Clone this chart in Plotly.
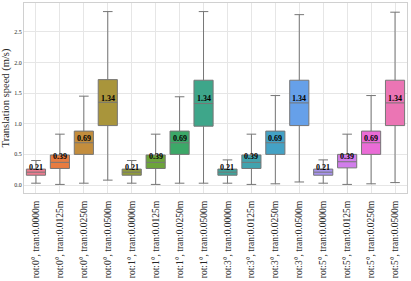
import math
import colorsys
import plotly.graph_objects as go

# ---------------- data ----------------
rotations = [0, 1, 3, 5]
translations = [0.0000, 0.0125, 0.0250, 0.0500]
categories = [f"rot:{r}°, tran:{t:.4f}m" for r in rotations for t in translations]

lower_whisker = [0.03, 0.01, 0.03, 0.08,  0.03, 0.01, 0.03, 0.03,  0.03, 0.01, 0.02, 0.05,  0.03, 0.01, 0.02, 0.04]
q1_values     = [0.16, 0.27, 0.50, 0.97,  0.16, 0.27, 0.50, 0.96,  0.16, 0.27, 0.50, 0.97,  0.16, 0.28, 0.50, 0.97]
median_values = [0.21, 0.37, 0.69, 1.35,  0.21, 0.37, 0.69, 1.33,  0.21, 0.37, 0.69, 1.34,  0.21, 0.38, 0.69, 1.34]
q3_values     = [0.26, 0.49, 0.88, 1.72,  0.26, 0.49, 0.88, 1.71,  0.26, 0.49, 0.88, 1.71,  0.26, 0.50, 0.88, 1.71]
upper_whisker = [0.40, 0.83, 1.45, 2.83,  0.40, 0.83, 1.44, 2.83,  0.41, 0.83, 1.46, 2.78,  0.41, 0.83, 1.46, 2.82]
mean_values   = [0.21, 0.39, 0.69, 1.34,  0.21, 0.39, 0.69, 1.34,  0.21, 0.39, 0.69, 1.34,  0.21, 0.39, 0.69, 1.34]

# ---------------- husl palette (seaborn style) ----------------
M = [[3.2406, -1.5372, -0.4986], [-0.9689, 1.8758, 0.0415], [0.0557, -0.2040, 1.0570]]
refU, refV = 0.19784, 0.46834
lab_e, lab_k = 0.008856, 903.3


def max_chroma(L, H):
    hrad = math.radians(H)
    sinH, cosH = math.sin(hrad), math.cos(hrad)
    sub1 = (L + 16) ** 3 / 1560896.0
    sub2 = sub1 if sub1 > 0.008856 else L / 903.3
    result = float("inf")
    for m1, m2, m3 in M:
        top = (0.99915 * m1 + 1.05122 * m2 + 1.14460 * m3) * sub2
        rbottom = 0.86330 * m3 - 0.17266 * m2
        lbottom = 0.12949 * m3 - 0.38848 * m1
        bottom = (rbottom * sinH + lbottom * cosH) * sub2
        for t in (0.0, 1.0):
            C = L * (top - 1.05122 * t) / (bottom + 0.17266 * sinH * t)
            if 0.0 < C < result:
                result = C
    return result


def f_inv(t):
    return t ** 3 if t ** 3 > lab_e else (116.0 * t - 16.0) / lab_k


def from_linear(c):
    return 12.92 * c if c <= 0.0031308 else 1.055 * c ** (1 / 2.4) - 0.055


def husl_to_rgb(H, S, L):
    C = max_chroma(L, H) / 100.0 * S
    hr = math.radians(H)
    U, V = math.cos(hr) * C, math.sin(hr) * C
    varY = f_inv((L + 16) / 116.0)
    varU = U / (13.0 * L) + refU
    varV = V / (13.0 * L) + refV
    Y = varY
    X = 0.0 - (9.0 * Y * varU) / ((varU - 4.0) * varV - varU * varV)
    Z = (9.0 * Y - (15.0 * varV * Y) - (varV * X)) / (3.0 * varV)
    rgb = [from_linear(r[0] * X + r[1] * Y + r[2] * Z) for r in M]
    return [min(max(v, 0.0), 1.0) for v in rgb]


n = len(categories)
colors = []
for i in range(n):
    h = ((i / n) + 0.01) % 1 * 359
    rgb = husl_to_rgb(h, 0.9 * 99, 0.65 * 99)
    hh, ll, ss = colorsys.rgb_to_hls(*rgb)
    rgb = colorsys.hls_to_rgb(hh, ll, ss * 0.85)
    colors.append("rgb(%d,%d,%d)" % tuple(round(v * 255) for v in rgb))
gray = "rgb(118,118,118)"

# ---------------- figure ----------------
fig = go.Figure()
for i, cat in enumerate(categories):
    fig.add_trace(go.Box(
        x=[cat], q1=[q1_values[i]], median=[median_values[i]], q3=[q3_values[i]],
        lowerfence=[lower_whisker[i]], upperfence=[upper_whisker[i]],
        fillcolor=colors[i], line=dict(color=gray, width=1),
        width=0.8, whiskerwidth=0.5, boxpoints=False, showlegend=False,
        hoverinfo="skip",
    ))
    fig.add_annotation(
        x=cat, y=mean_values[i], text=f"<b>{mean_values[i]:.2f}</b>",
        showarrow=False, yanchor="bottom", yshift=-2,
        font=dict(family="Liberation Serif", size=8, color="black"),
    )

fig.update_layout(
    width=411, height=281,
    margin=dict(l=24, r=4, t=3, b=88),
    paper_bgcolor="white", plot_bgcolor="white",
    boxmode="overlay",
    font=dict(family="Liberation Serif", color="#262626"),
)
fig.update_xaxes(
    categoryorder="array", categoryarray=categories,
    tickangle=-90, tickfont=dict(size=9.5, family="Liberation Serif", color="#262626"),
    showgrid=True, gridcolor="#e6e6e6", gridwidth=1,
    showline=True, linecolor="#d0d0d0", linewidth=1, mirror=True,
    ticks="outside", ticklen=3, tickcolor="rgba(0,0,0,0)", range=[-0.5, n - 0.5],
    automargin=False,
)
fig.update_yaxes(
    range=[-0.13, 2.97], tickvals=[0, 0.5, 1.0, 1.5, 2.0, 2.5], tickformat=".1f",
    tickfont=dict(size=6, family="Liberation Serif", color="#262626"),
    showgrid=True, gridcolor="#e6e6e6", gridwidth=1,
    showline=True, linecolor="#d0d0d0", linewidth=1, mirror=True,
    zeroline=False, ticks="",
    title=dict(text="Translation speed (m/s)", font=dict(size=10.5, family="Liberation Serif", color="#262626"), standoff=4),
)
fig.write_html("out.html", config={"displayModeBar": False},
               post_script="document.body.style.margin='0';document.body.style.overflow='hidden';")
